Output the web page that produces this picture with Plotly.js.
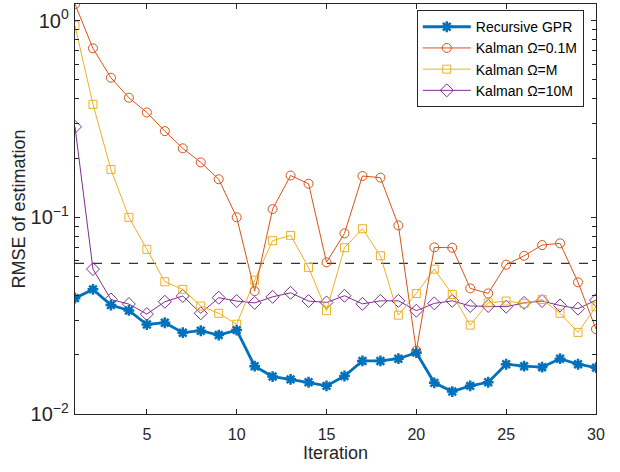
<!DOCTYPE html>
<html>
<head>
<meta charset="utf-8">
<script src="https://cdn.plot.ly/plotly-3.0.1.min.js"></script>
<style>html,body{margin:0;padding:0;background:#fff;}#chart{width:620px;height:472px;}</style>
</head>
<body>
<div id="chart"></div>
<script>
const iterations = [1,2,3,4,5,6,7,8,9,10,11,12,13,14,15,16,17,18,19,20,21,22,23,24,25,26,27,28,29,30];
const recursiveGPR = [0.0388,0.0430,0.0358,0.0336,0.0285,0.0291,0.0259,0.0265,0.0252,0.0267,0.0175,0.0155,0.0150,0.0145,0.0139,0.0156,0.0186,0.0186,0.0191,0.0205,0.0144,0.0130,0.0139,0.0145,0.0179,0.0175,0.0173,0.0191,0.0179,0.0172];
const kalman01M = [1.21,0.722,0.512,0.405,0.341,0.274,0.224,0.190,0.156,0.100,0.0421,0.110,0.163,0.148,0.0590,0.0828,0.162,0.159,0.0909,0.0210,0.0703,0.0700,0.0435,0.0410,0.0574,0.0637,0.0722,0.0737,0.0467,0.0270];
const kalmanM = [0.941,0.375,0.175,0.0999,0.0687,0.0470,0.0430,0.0354,0.0325,0.0286,0.0479,0.0760,0.0809,0.0556,0.0335,0.0700,0.0874,0.0637,0.0318,0.0410,0.0545,0.0405,0.0283,0.0367,0.0375,0.0365,0.0382,0.0325,0.0260,0.0351];
const kalman10M = [0.288,0.0545,0.0382,0.0362,0.0322,0.0372,0.0398,0.0325,0.0390,0.0375,0.0367,0.0394,0.0413,0.0375,0.0369,0.0399,0.0363,0.0376,0.0376,0.0335,0.0365,0.0376,0.0354,0.0354,0.0351,0.0367,0.0375,0.0356,0.0343,0.0379];
const thresholdLevel = 0.0583;
const seriesNames = ['Recursive GPR','Kalman \u03A9=0.1M','Kalman \u03A9=M','Kalman \u03A9=10M'];

const axisColor = '#262626';
const fontFam = '"Liberation Sans", Arial, Helvetica, sans-serif';

const traces = [
  {x:[iterations[0], iterations[iterations.length-1]], y:[thresholdLevel, thresholdLevel], mode:'lines', showlegend:false, hoverinfo:'skip',
   line:{color:'#333333', width:1.2, dash:'dash'}},
  {x:iterations, y:kalman10M, name:seriesNames[3], mode:'lines+markers',
   line:{color:'#7E2F8E', width:1}, marker:{symbol:'diamond-open', size:10, color:'#7E2F8E', line:{width:1}}},
  {x:iterations, y:kalmanM, name:seriesNames[2], mode:'lines+markers',
   line:{color:'#EDB120', width:1}, marker:{symbol:'square-open', size:8, color:'#EDB120', line:{width:1}}},
  {x:iterations, y:kalman01M, name:seriesNames[1], mode:'lines+markers',
   line:{color:'#D95319', width:1}, marker:{symbol:'circle-open', size:9, color:'#D95319', line:{width:1}}},
  {x:iterations, y:recursiveGPR, name:seriesNames[0], mode:'lines+markers',
   line:{color:'#0072BD', width:2.8}, marker:{symbol:'asterisk-open', size:9, color:'#0072BD', line:{width:2.5, color:'#0072BD'}}}
];

const layout = {
  width:620, height:472,
  margin:{l:75, r:24, t:4, b:58},
  paper_bgcolor:'#fff', plot_bgcolor:'#fff',
  font:{family:fontFam, size:16, color:axisColor},
  showlegend:true,
  legend:{x:0.656, y:0.985, xanchor:'left', yanchor:'top', bgcolor:'#fff', bordercolor:axisColor, borderwidth:1,
          font:{family:fontFam, size:14, color:'#000'}, traceorder:'reversed', tracegroupgap:0,
          itemwidth:48},
  xaxis:{range:[1,30], tickmode:'linear', tick0:5, dtick:5, ticks:'inside', ticklen:5, tickcolor:axisColor,
         showline:true, linecolor:axisColor, linewidth:1, mirror:'ticks', showgrid:false, zeroline:false,
         tickfont:{size:16, color:axisColor}, ticklabelstandoff:6,
         title:{text:'Iteration', font:{size:18, color:axisColor}, standoff:2}},
  yaxis:{type:'log', range:[-2, 0.0839], dtick:1, exponentformat:'power', ticks:'inside', ticklen:5, tickcolor:axisColor,
         showline:true, linecolor:axisColor, linewidth:1, mirror:'ticks', showgrid:false, zeroline:false,
         tickfont:{size:16, color:axisColor}, ticklabelstandoff:2,
         labelalias:{'1':'10<sup>0</sup>'},
         minor:{ticks:'inside', ticklen:4, tickcolor:axisColor, dtick:'D1', showgrid:false},
         title:{text:'RMSE of estimation', font:{size:18, color:axisColor}, standoff:0}}
};

Plotly.newPlot('chart', traces, layout, {staticPlot:true, displayModeBar:false});
</script>
</body>
</html>
